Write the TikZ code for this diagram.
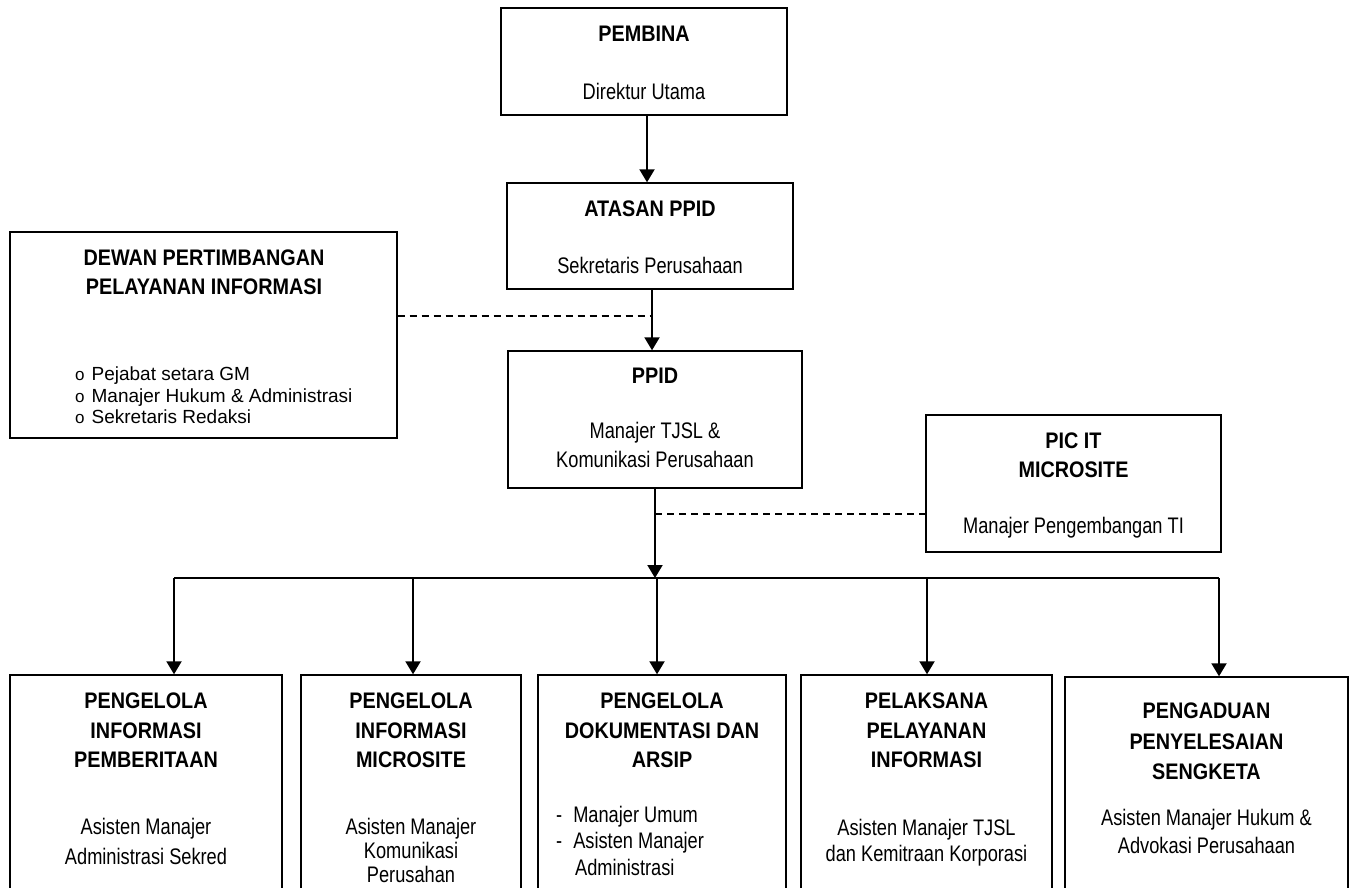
\documentclass[tikz,border=0pt]{standalone}
\usepackage{fontspec}
\setmainfont{Liberation Sans}[FakeStretch=0.81, BoldFeatures={FakeStretch=0.88}]
\newfontfamily\listfont{Liberation Sans}
\usetikzlibrary{arrows.meta,calc}
\begin{document}
\begin{tikzpicture}[x=1pt,y=-1pt,
  box/.style={draw, line width=1.4pt, inner sep=0pt, rectangle, fill=none},
  lbl/.style={inner sep=0pt, anchor=base, font=\fontsize{22.5}{26}\selectfont},
  ttl/.style={inner sep=0pt, anchor=base, font=\fontsize{22.5}{26}\selectfont\bfseries},
  lst/.style={inner sep=0pt, anchor=base west, font=\listfont\fontsize{19}{22}\selectfont},
  arr/.style={line width=2pt, -{Triangle[width=15pt,length=13pt]}},
  conn/.style={line width=1.8pt},
  dashline/.style={line width=1.5pt, dash pattern=on 7pt off 5pt}]
\useasboundingbox (0,0) rectangle (1354,888);
\clip (0,0) rectangle (1354,888);
% boxes
\node[box, minimum width=286pt, minimum height=107pt] (pembina) at (644,61.5) {};
\node[box, minimum width=286pt, minimum height=106pt] (atasan) at (650,236) {};
\node[box, minimum width=387pt, minimum height=206pt] (dewan) at (203.5,335) {};
\node[box, minimum width=294pt, minimum height=137pt] (ppid) at (655,419.5) {};
\node[box, minimum width=295pt, minimum height=137pt] (pic) at (1073.5,483.5) {};
\node[box, minimum width=272pt, minimum height=225pt] (b1) at (146,787.5) {};
\node[box, minimum width=220pt, minimum height=225pt] (b2) at (411,787.5) {};
\node[box, minimum width=248pt, minimum height=225pt] (b3) at (662,787.5) {};
\node[box, minimum width=251pt, minimum height=225pt] (b4) at (926.5,787.5) {};
\node[box, minimum width=283pt, minimum height=223pt] (b5) at (1206.5,788.5) {};
% texts
\node[ttl] (t1) at (644,42) {PEMBINA};
\node[lbl] (s1) at (644,100) {Direktur Utama};
\node[ttl] (t2) at (650,216) {ATASAN PPID};
\node[lbl] (s2) at (650,273) {Sekretaris Perusahaan};
\node[ttl] (t3a) at (204,265) {DEWAN PERTIMBANGAN};
\node[ttl] (t3b) at (204,294) {PELAYANAN INFORMASI};
\node[lst] (l1) at (75,380) {\fontsize{17}{20}\selectfont o\hspace{7pt}\fontsize{19}{22}\selectfont Pejabat setara GM};
\node[lst] (l2) at (75,402) {\fontsize{17}{20}\selectfont o\hspace{7pt}\fontsize{19}{22}\selectfont Manajer Hukum \& Administrasi};
\node[lst] (l3) at (75,423) {\fontsize{17}{20}\selectfont o\hspace{7pt}\fontsize{19}{22}\selectfont Sekretaris Redaksi};
\node[ttl] (t4) at (655,383) {PPID};
\node[lbl] (s4a) at (655,438) {Manajer TJSL \&};
\node[lbl] (s4b) at (655,467) {Komunikasi Perusahaan};
\node[ttl] (t5a) at (1073.5,448) {PIC IT};
\node[ttl] (t5b) at (1073.5,477) {MICROSITE};
\node[lbl] (s5) at (1073.5,533) {Manajer Pengembangan TI};
% bottom box texts
\node[ttl] (b1a) at (146,708) {PENGELOLA};
\node[ttl] (b1b) at (146,738) {INFORMASI};
\node[ttl] (b1c) at (146,767) {PEMBERITAAN};
\node[lbl] (b1d) at (146,834) {Asisten Manajer};
\node[lbl] (b1e) at (146,864) {Administrasi Sekred};
\node[ttl] (b2a) at (411,708) {PENGELOLA};
\node[ttl] (b2b) at (411,738) {INFORMASI};
\node[ttl] (b2c) at (411,767) {MICROSITE};
\node[lbl] (b2d) at (411,834) {Asisten Manajer};
\node[lbl] (b2e) at (411,858) {Komunikasi};
\node[lbl] (b2f) at (411,882) {Perusahan};
\node[ttl] (b3a) at (662,708) {PENGELOLA};
\node[ttl] (b3b) at (662,738) {DOKUMENTASI DAN};
\node[ttl] (b3c) at (662,767) {ARSIP};
\node[lbl, anchor=base west] (b3d) at (556,822) {-\hspace{11pt}Manajer Umum};
\node[lbl, anchor=base west] (b3e) at (556,848) {-\hspace{11pt}Asisten Manajer};
\node[lbl, anchor=base west] (b3f) at (575,875) {Administrasi};
\node[ttl] (b4a) at (926.5,708) {PELAKSANA};
\node[ttl] (b4b) at (926.5,738) {PELAYANAN};
\node[ttl] (b4c) at (926.5,767) {INFORMASI};
\node[lbl] (b4d) at (926.5,835) {Asisten Manajer TJSL};
\node[lbl] (b4e) at (926.5,861) {dan Kemitraan Korporasi};
\node[ttl] (b5a) at (1206.5,718) {PENGADUAN};
\node[ttl] (b5b) at (1206.5,749) {PENYELESAIAN};
\node[ttl] (b5c) at (1206.5,779) {SENGKETA};
\node[lbl] (b5d) at (1206.5,825) {Asisten Manajer Hukum \&};
\node[lbl] (b5e) at (1206.5,853) {Advokasi Perusahaan};
% connector coordinates
\coordinate (xa) at (647,0);
\coordinate (xb) at (652,0);
\coordinate (j1) at (652,316);
\coordinate (j2) at (655,514);
\coordinate (barM) at (655,578);
\coordinate (barL) at (174,578);
\coordinate (barR) at (1219,578);
\coordinate (x1) at (174,0);
\coordinate (x2) at (413,0);
\coordinate (x3) at (657,0);
\coordinate (x4) at (927,0);
\coordinate (x5) at (1219,0);
% connectors
\draw[arr] (pembina.south -| xa) -- (atasan.north -| xa);
\draw[arr] (atasan.south -| xb) -- (ppid.north -| xb);
\draw[dashline] (dewan.east |- j1) -- (j1);
\draw[arr] (ppid.south -| barM) -- (barM);
\draw[dashline] (j2) -- (pic.west |- j2);
\draw[conn] (barL) -- (barR);
\draw[arr] (barL) -- (b1.north -| x1);
\draw[arr] (barL -| x2) -- (b2.north -| x2);
\draw[arr] (barL -| x3) -- (b3.north -| x3);
\draw[arr] (barL -| x4) -- (b4.north -| x4);
\draw[arr] (barR) -- (b5.north -| x5);
\end{tikzpicture}
\end{document}
